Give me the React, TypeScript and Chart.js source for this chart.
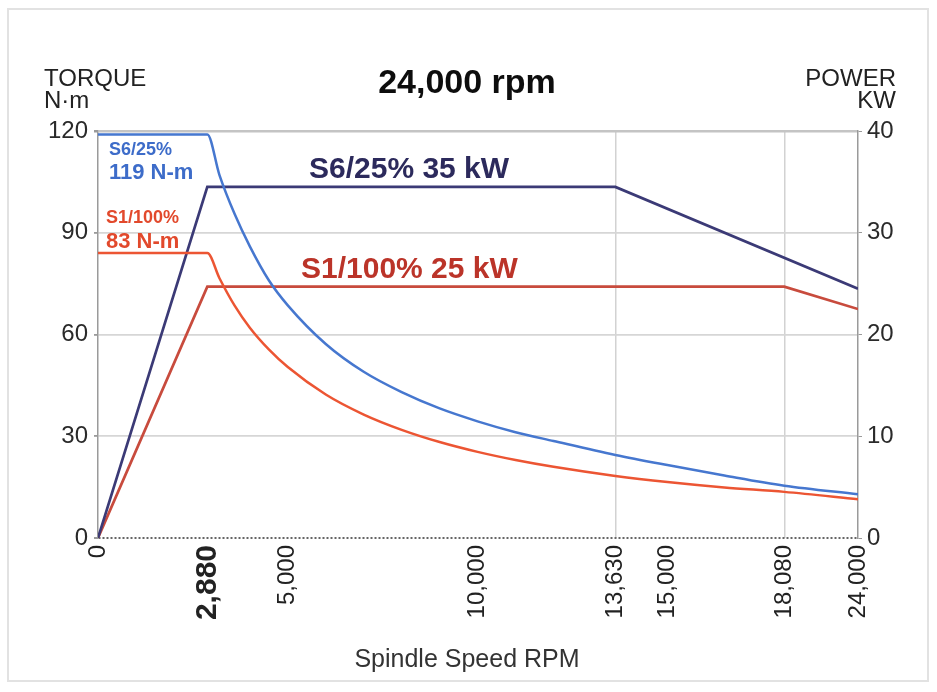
import React, { useEffect, useRef } from 'react';
import { Chart, registerables, LinearScale } from 'chart.js';

const FONT = '"Liberation Sans", Arial, Helvetica, sans-serif';

// X axis (spindle speed, rpm)
const speedTicks = [0, 2880, 5000, 10000, 13630, 15000, 18080, 24000];
const boldSpeedTick = 2880;
const speedGridValues = [13630, 18080];
// the source axis is compressed beyond 18,080 rpm
const speedBreaks = [0, 18080, 24000];
const speedBreakFractions = [0, 0.903, 1];

// Torque curves (N·m)
const torqueRpm = [0, 2880, 3200, 3600, 4000, 4500, 5000, 6000, 7000, 8000, 9000, 10000, 11000, 12000, 13630, 15000, 16500, 18080, 24000];
const s6Torque = [119, 119, 107, 95.5, 86, 76, 68.6, 57.2, 49, 43, 38.2, 34.4, 31.2, 28.6, 24.5, 21.5, 18.4, 15.4, 12.9];
const s1Torque = [84, 84, 76.6, 68.5, 62, 55.6, 50.4, 42.3, 36.4, 31.9, 28.3, 25.4, 23, 21, 18.3, 16.5, 14.9, 13.6, 11.4];

// Power curves (kW)
const s6PowerRpm = [0, 2880, 13630, 24000];
const s6Power = [0, 34.5, 34.5, 24.5];
const s1PowerRpm = [0, 2880, 18080, 24000];
const s1Power = [0, 24.7, 24.7, 22.5];

// Y axes
const torqueMin = 0;
const torqueMax = 120;
const torqueStep = 30;
const powerMin = 0;
const powerMax = 40;
const powerStep = 10;

// Texts
const titleText = '24,000 rpm';
const xTitleText = 'Spindle Speed RPM';
const leftTitleLines = ['TORQUE', 'N·m'];
const rightTitleLines = ['POWER', 'KW'];
const s6TorqueLabel = ['S6/25%', '119 N-m'];
const s1TorqueLabel = ['S1/100%', '83 N-m'];
const s6PowerLabel = 'S6/25% 35 kW';
const s1PowerLabel = 'S1/100% 25 kW';

const COLORS = {
  s6Torque: '#4677cf',
  s1Torque: '#ec5533',
  s6Power: '#3b3a76',
  s1Power: '#c84b3d',
  s6PowerText: '#2c2a5c',
  s1PowerText: '#bb3429',
  s6TorqueText: '#3d6cc9',
  s1TorqueText: '#e2492c',
};

function toFraction(v: number): number {
  const b = speedBreaks;
  const f = speedBreakFractions;
  let i = 0;
  while (i < b.length - 2 && v > b[i + 1]) i++;
  return f[i] + ((v - b[i]) / (b[i + 1] - b[i])) * (f[i + 1] - f[i]);
}

function fromFraction(fr: number): number {
  const b = speedBreaks;
  const f = speedBreakFractions;
  let i = 0;
  while (i < f.length - 2 && fr > f[i + 1]) i++;
  return b[i] + ((fr - f[i]) / (f[i + 1] - f[i])) * (b[i + 1] - b[i]);
}

class BrokenSpeedScale extends LinearScale {
  static id = 'brokenSpeed';
  static defaults = {};
  getPixelForValue(value: any) {
    if (value === null || value === undefined || Number.isNaN(+value)) return NaN;
    return (this as any).getPixelForDecimal(toFraction(+value));
  }
  getValueForPixel(pixel: number) {
    return fromFraction((this as any).getDecimalForPixel(pixel));
  }
}

Chart.register(...registerables, BrokenSpeedScale as any);

const pts = (xs: number[], ys: number[]) => xs.map((x, i) => ({ x, y: ys[i] }));

const textPlugin = {
  id: 'chartTexts',
  afterDraw(chart: any) {
    const ctx = chart.ctx as CanvasRenderingContext2D;
    const put = (text: string, x: number, y: number, font: string, color: string, align: CanvasTextAlign = 'left') => {
      ctx.font = font;
      ctx.fillStyle = color;
      ctx.textAlign = align;
      ctx.textBaseline = 'alphabetic';
      ctx.fillText(text, x, y);
    };
    ctx.save();
    put(titleText, 467, 93, `bold 34px ${FONT}`, '#0d0d0d', 'center');
    put(leftTitleLines[0], 44, 86, `24px ${FONT}`, '#222');
    put(leftTitleLines[1], 44, 108, `24px ${FONT}`, '#222');
    put(rightTitleLines[0], 896, 86, `24px ${FONT}`, '#222', 'right');
    put(rightTitleLines[1], 896, 108, `24px ${FONT}`, '#222', 'right');
    put(s6TorqueLabel[0], 109, 155, `bold 18px ${FONT}`, COLORS.s6TorqueText);
    put(s6TorqueLabel[1], 109, 179, `bold 22px ${FONT}`, COLORS.s6TorqueText);
    put(s1TorqueLabel[0], 106, 223, `bold 18px ${FONT}`, COLORS.s1TorqueText);
    put(s1TorqueLabel[1], 106, 248, `bold 22px ${FONT}`, COLORS.s1TorqueText);
    put(s6PowerLabel, 309, 178, `bold 30px ${FONT}`, COLORS.s6PowerText);
    put(s1PowerLabel, 301, 278, `bold 30px ${FONT}`, COLORS.s1PowerText);
    put(xTitleText, 467, 667, `25px ${FONT}`, '#333', 'center');
    ctx.restore();
  },
};

export default function App() {
  const ref = useRef<HTMLCanvasElement>(null);

  useEffect(() => {
    if (!ref.current) return;
    const chart = new Chart(ref.current, {
      type: 'line',
      data: {
        datasets: [
          {
            label: 'S6/25% torque',
            data: pts(torqueRpm, s6Torque),
            borderColor: COLORS.s6Torque,
            borderWidth: 2.5,
            pointRadius: 0,
            cubicInterpolationMode: 'monotone',
            yAxisID: 'y',
          },
          {
            label: 'S1/100% torque',
            data: pts(torqueRpm, s1Torque),
            borderColor: COLORS.s1Torque,
            borderWidth: 2.5,
            pointRadius: 0,
            cubicInterpolationMode: 'monotone',
            yAxisID: 'y',
          },
          {
            label: 'S6/25% power',
            data: pts(s6PowerRpm, s6Power),
            borderColor: COLORS.s6Power,
            borderWidth: 2.7,
            pointRadius: 0,
            tension: 0,
            yAxisID: 'y1',
          },
          {
            label: 'S1/100% power',
            data: pts(s1PowerRpm, s1Power),
            borderColor: COLORS.s1Power,
            borderWidth: 2.7,
            pointRadius: 0,
            tension: 0,
            yAxisID: 'y1',
          },
        ],
      },
      options: {
        animation: false,
        responsive: false,
        maintainAspectRatio: false,
        layout: { padding: { top: 131, left: 0, right: 0, bottom: 0 } },
        plugins: {
          legend: { display: false },
          tooltip: { enabled: false },
          title: { display: false },
        },
        scales: {
          x: {
            type: 'brokenSpeed' as any,
            position: 'bottom',
            min: speedTicks[0],
            max: speedTicks[speedTicks.length - 1],
            afterBuildTicks: (s: any) => {
              s.ticks = speedTicks.map((v) => ({ value: v }));
            },
            afterFit: (s: any) => {
              s.height = 154;
            },
            grid: {
              drawTicks: false,
              lineWidth: 1.5,
              color: (c: any) =>
                c.tick && speedGridValues.includes(c.tick.value) ? '#d2d2d2' : 'rgba(0,0,0,0)',
            },
            border: { display: false },
            ticks: {
              autoSkip: false,
              minRotation: 90,
              maxRotation: 90,
              padding: 7,
              color: '#222',
              font: (c: any) =>
                c.tick && c.tick.value === boldSpeedTick
                  ? { family: FONT, size: 30, weight: 'bold' }
                  : { family: FONT, size: 24, weight: 'normal' },
              callback: (v: any) => Number(v).toLocaleString('en-US'),
            },
          },
          y: {
            type: 'linear',
            position: 'left',
            min: torqueMin,
            max: torqueMax,
            afterFit: (s: any) => {
              s.width = 98;
            },
            ticks: {
              stepSize: torqueStep,
              padding: 6,
              color: '#2a2a2a',
              font: { family: FONT, size: 24 },
            },
            grid: {
              drawTicks: true,
              tickLength: 4,
              tickColor: '#9a9a9a',
              color: (c: any) =>
                c.tick && c.tick.value === torqueMin
                  ? '#666666'
                  : c.tick && c.tick.value === torqueMax
                  ? '#c4c4c4'
                  : '#d6d6d6',
              lineWidth: (c: any) =>
                c.tick && c.tick.value === torqueMax ? 2.5 : c.tick && c.tick.value === torqueMin ? 2 : 1.8,
            },
            border: {
              display: true,
              color: '#9a9a9a',
              width: 1.5,
              dash: (c: any) => (c.tick && c.tick.value === torqueMin ? [2, 2] : []),
            },
          },
          y1: {
            type: 'linear',
            position: 'right',
            min: powerMin,
            max: powerMax,
            afterFit: (s: any) => {
              s.width = 79;
            },
            ticks: {
              stepSize: powerStep,
              padding: 5,
              color: '#2a2a2a',
              font: { family: FONT, size: 24 },
            },
            grid: {
              drawOnChartArea: false,
              drawTicks: true,
              tickLength: 4,
              tickColor: '#9a9a9a',
            },
            border: { display: true, color: '#9a9a9a', width: 1.5 },
          },
        },
      } as any,
      plugins: [textPlugin],
    });
    return () => chart.destroy();
  }, []);

  return (
    <div
      style={{
        position: 'absolute',
        left: 0,
        top: 0,
        width: 937,
        height: 692,
        background: '#fff',
        overflow: 'hidden',
      }}
    >
      <div
        style={{
          position: 'absolute',
          left: 7,
          top: 8,
          width: 918,
          height: 670,
          border: '2px solid #e2e2e2',
        }}
      />
      <canvas
        ref={ref}
        width={937}
        height={692}
        style={{ position: 'absolute', left: 0, top: 0, width: 937, height: 692 }}
      />
    </div>
  );
}
